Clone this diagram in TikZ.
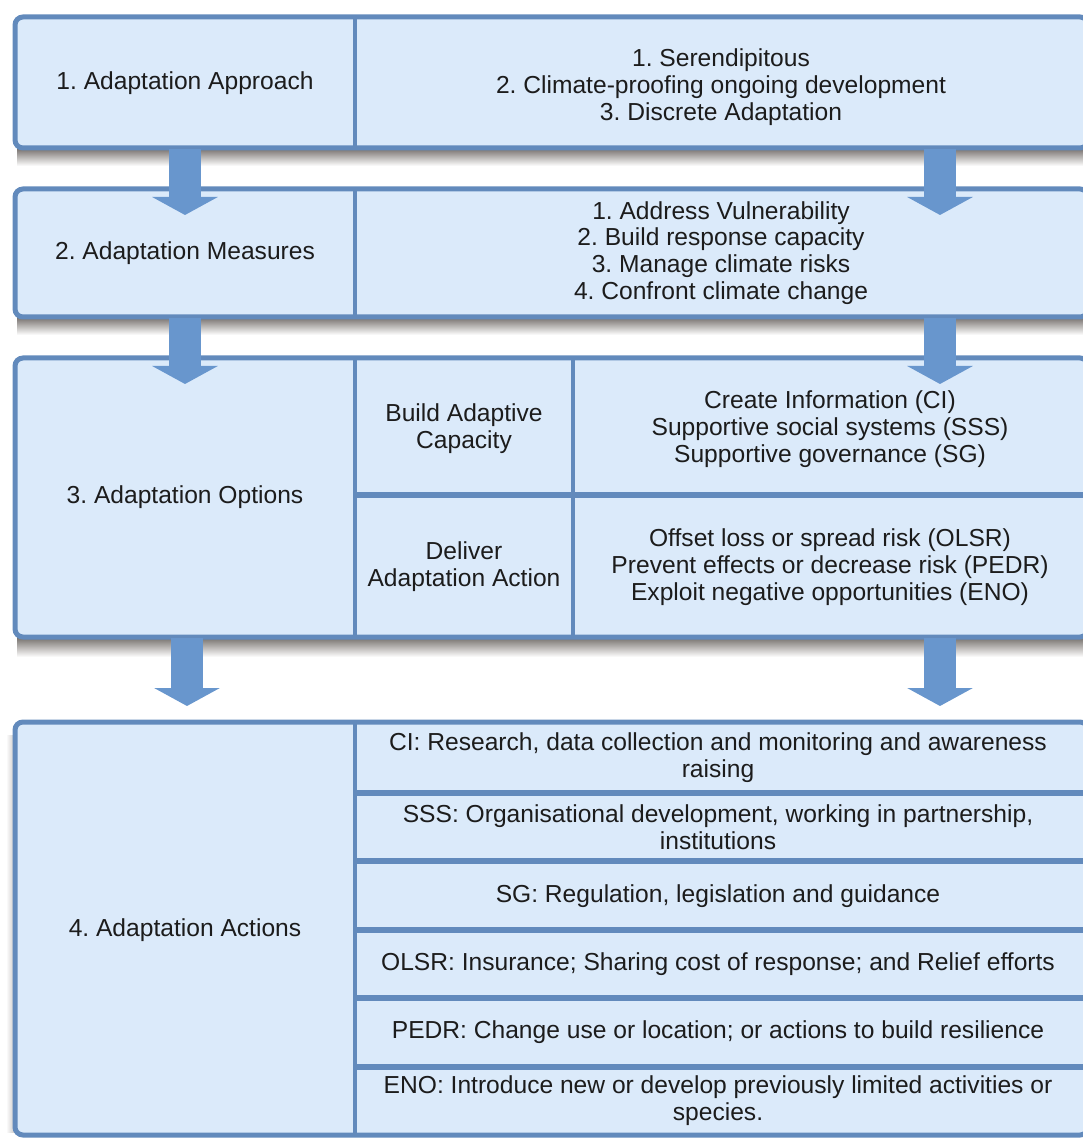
\documentclass[tikz,border=0pt]{standalone}
\usepackage{fontspec}
\setmainfont{Liberation Sans}
\usetikzlibrary{arrows.meta}
\definecolor{bordc}{RGB}{98,138,188}
\definecolor{fillc}{RGB}{219,234,250}
\definecolor{arrc}{RGB}{104,150,205}
\definecolor{shadc}{RGB}{100,94,90}
\definecolor{txtc}{RGB}{28,28,28}
\begin{document}
\frenchspacing
\begin{tikzpicture}[x=0.5pt,y=-0.5pt,
  font=\fontsize{12.3}{13.4}\selectfont,
  blockbox/.style={draw=bordc,line width=2.5pt,fill=fillc,rounded corners=4pt},
  divv/.style={draw=bordc,line width=2pt},
  divh/.style={draw=bordc,line width=2.6pt},
  txt/.style={align=center,text=txtc,inner sep=0pt},
  bigarrow/.style={color=arrc,line width=16pt,-{Triangle[width=32.5pt,length=9pt]}},
  shadowband/.style={top color=shadc,bottom color=white}]
\useasboundingbox (0,0) rectangle (1082,1138);

% shadows
\shade[shadowband] (17,146) rectangle (1090,166);
\shade[shadowband] (17,315) rectangle (1090,335);
\shade[shadowband] (17,635) rectangle (1090,657);
\shade[left color=white,right color=shadc!35] (6,735) rectangle (15,1132);

% blocks
\draw[blockbox] (15,17) rectangle (1088,148);
\draw[blockbox] (15,189) rectangle (1088,317);
\draw[blockbox] (15,358) rectangle (1088,637);
\draw[blockbox] (15,722) rectangle (1088,1135);

% dividers
\draw[divv] (355,17) -- (355,148);
\draw[divv] (355,189) -- (355,317);
\draw[divv] (355,358) -- (355,637);
\draw[divv] (573,358) -- (573,637);
\draw[divh] (355,495) -- (1088,495);
\draw[divv] (355,722) -- (355,1135);
\foreach \yy in {793,861,930,998,1067}{\draw[divh] (355,\yy) -- (1088,\yy);}

% texts
\node[txt] (t1l) at (185,83) {1. Adaptation Approach};
\node[txt] (t1r) at (721,87) {1. Serendipitous\\2. Climate-proofing ongoing development\\3. Discrete Adaptation};
\node[txt] (t2l) at (185,253) {2. Adaptation Measures};
\node[txt] (t2r) at (721,253) {1. Address Vulnerability\\2. Build response capacity\\3. Manage climate risks\\4. Confront climate change};
\node[txt] (t3l) at (185,497) {3. Adaptation Options};
\node[txt] (t3a) at (464,429) {Build Adaptive\\Capacity};
\node[txt] (t3b) at (464,567) {Deliver\\Adaptation Action};
\node[txt] (t3c) at (830,429) {Create Information (CI)\\Supportive social systems (SSS)\\Supportive governance (SG)};
\node[txt] (t3d) at (830,567) {Offset loss or spread risk (OLSR)\\Prevent effects or decrease risk (PEDR)\\Exploit negative opportunities (ENO)};
\node[txt] (t4l) at (185,930) {4. Adaptation Actions};
\node[txt] (r1) at (718,758) {CI: Research, data collection and monitoring and awareness\\raising};
\node[txt] (r2) at (718,827) {SSS: Organisational development, working in partnership,\\institutions};
\node[txt] (r3) at (718,896) {SG: Regulation, legislation and guidance};
\node[txt] (r4) at (718,964) {OLSR: Insurance; Sharing cost of response; and Relief efforts};
\node[txt] (r5) at (718,1032) {PEDR: Change use or location; or actions to build resilience};
\node[txt] (r6) at (718,1101) {ENO: Introduce new or develop previously limited activities or\\species.};

% arrow anchor coordinates
\coordinate (a1ls) at (185,149); \coordinate (a1le) at (185,215);
\coordinate (a1rs) at (940,149); \coordinate (a1re) at (940,215);
\coordinate (a2ls) at (185,318); \coordinate (a2le) at (185,384);
\coordinate (a2rs) at (940,318); \coordinate (a2re) at (940,384);
\coordinate (a3ls) at (187,638); \coordinate (a3le) at (187,706);
\coordinate (a3rs) at (940,638); \coordinate (a3re) at (940,706);

\draw[bigarrow] (a1ls) -- (a1le);
\draw[bigarrow] (a1rs) -- (a1re);
\draw[bigarrow] (a2ls) -- (a2le);
\draw[bigarrow] (a2rs) -- (a2re);
\draw[bigarrow] (a3ls) -- (a3le);
\draw[bigarrow] (a3rs) -- (a3re);
\end{tikzpicture}
\end{document}
